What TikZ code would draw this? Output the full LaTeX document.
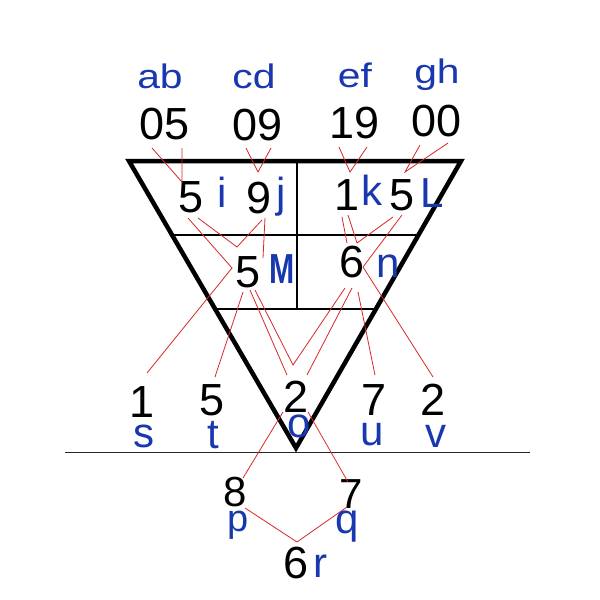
\documentclass[tikz,border=0pt]{standalone}
\usepackage{fontspec}
\setmainfont{Liberation Sans}
\definecolor{lblue}{RGB}{25,55,175}
\definecolor{lred}{RGB}{215,40,40}
\begin{document}
\begin{tikzpicture}[x=1pt,y=-1pt,
  dig/.style={font=\fontsize{45}{45}\selectfont, anchor=base, inner sep=0pt, text=black},
  let/.style={font=\fontsize{42}{42}\selectfont, anchor=base, inner sep=0pt, text=lblue},
  toplbl/.style={font=\fontsize{34}{34}\selectfont, anchor=base, inner sep=0pt, text=lblue},
  frame/.style={line width=4.5pt, line join=miter},
  thin/.style={line width=1.1pt},
  link/.style={draw=lred, line width=0.8pt}]
\fill[white] (0,0) rectangle (600,600);
\useasboundingbox (0,0) rectangle (600,600);

% triangle frame
\coordinate (TL) at (129,161);
\coordinate (TR) at (461,161);
\coordinate (AP) at (296,448);
\draw[frame] (TL) -- (TR) -- (AP) -- cycle;
% inner grid
\coordinate (m1l) at (172,235); \coordinate (m1r) at (418.5,235);
\coordinate (m2l) at (215,309); \coordinate (m2r) at (376,309);
\coordinate (vt) at (297,161); \coordinate (vb) at (297,309);
\draw[thin] (m1l) -- (m1r);
\draw[thin] (m2l) -- (m2r);
\draw[thin] (vt) -- (vb);
% ground line
\coordinate (gl) at (65,452); \coordinate (gr) at (530,452);
\draw[line width=1pt, black!85] (gl) -- (gr);

% top labels
\node[toplbl] (ab) at (160,88) {\scalebox{1.2}[1]{ab}};
\node[toplbl] (cd) at (254,88) {\scalebox{1.2}[1]{cd}};
\node[toplbl] (ef) at (355,87) {\scalebox{1.2}[1]{ef}};
\node[toplbl] (gh) at (437,83) {\scalebox{1.2}[1]{gh}};
% top numbers
\node[dig] (n05) at (165,139) {05};
\node[dig] (n09) at (258,140) {09};
\node[dig] (n19) at (355,138) {19};
\node[dig] (n00) at (437,136) {00};
% row 1
\node[dig] (d5i) at (191,212) {5};
\node[let] (li) at (222,207) {i};
\node[dig] (d9j) at (259,213) {9};
\node[let] (lj) at (281,207) {j};
\node[dig] (d1k) at (347,210) {1};
\node[let] (lk) at (372,205) {k};
\node[dig] (d5L) at (402,210) {5};
\node[let] (lL) at (432,207) {L};
% row 2
\node[dig] (d5M) at (248,287) {5};
\node[let] (lM) at (282,283) {\scalebox{0.72}[1]{\bfseries M}};
\node[dig] (d6n) at (352,277) {6};
\node[let] (ln) at (388,277) {n};
% bottom row
\node[dig] (d1s) at (142,417) {1};
\node[let] (ls) at (144,447) {s};
\node[dig] (d5t) at (212,415) {5};
\node[let] (lt) at (213,448) {t};
\node[dig] (d2o) at (296,412) {2};
\node[let] (lo) at (299,437) {o};
\node[dig] (d7u) at (374,415) {7};
\node[let] (lu) at (372,445) {u};
\node[dig] (d2v) at (433,415) {2};
\node[let] (lv) at (436,447) {v};
% below
\node[dig, font=\fontsize{42}{42}\selectfont] (d8p) at (235,506) {8};
\node[let, font=\fontsize{38}{38}\selectfont] (lp) at (238,531) {p};
\node[dig, font=\fontsize{42}{42}\selectfont] (d7q) at (351,508) {7};
\node[let] (lq) at (347,533) {q};
\node[dig] (d6r) at (296,578) {6};
\node[let] (lr) at (320,577) {r};

% red link points
\coordinate (a1) at (152,148); \coordinate (a2) at (182,148); \coordinate (a0) at (182,182);
\coordinate (c1) at (246,148); \coordinate (c2) at (271,148); \coordinate (c0) at (258,172);
\coordinate (e1) at (339,147); \coordinate (e2) at (367,147); \coordinate (e0) at (350,172);
\coordinate (g1) at (420,145); \coordinate (g2) at (448,143); \coordinate (g0) at (405,172);
\coordinate (i1) at (188,218); \coordinate (i2) at (198,218);
\coordinate (ibend) at (232,268); \coordinate (sTop) at (147,373);
\coordinate (j1) at (262,220); \coordinate (j2) at (265,218); \coordinate (jEnd) at (263,258);
\coordinate (ijV) at (237,247);
\coordinate (k1) at (342,217); \coordinate (k2) at (348,215); \coordinate (kEnd) at (347,243);
\coordinate (L1) at (393,217); \coordinate (L2) at (402,215);
\coordinate (kLV) at (357,243);
\coordinate (Lbend) at (363,267); \coordinate (vTop) at (433,377);
\coordinate (M1) at (243,292); \coordinate (M2) at (250,290); \coordinate (M3) at (255,290);
\coordinate (tTop) at (215,377); \coordinate (oL) at (287,375); \coordinate (MnV) at (293,365);
\coordinate (n1) at (345,288); \coordinate (n2) at (352,288); \coordinate (n3) at (358,292);
\coordinate (oR) at (307,375); \coordinate (uTop) at (375,375);
\coordinate (o1) at (283,412); \coordinate (o2) at (308,412);
\coordinate (pTop) at (243,478); \coordinate (qTop) at (348,482);
\coordinate (p1) at (245,508); \coordinate (q1) at (347,507); \coordinate (rV) at (297,542);

\draw[link] (a1) -- (a0) -- (a2);
\draw[link] (c1) -- (c0) -- (c2);
\draw[link] (e1) -- (e0) -- (e2);
\draw[link] (g1) -- (g0) -- (g2);
\draw[link] (i1) -- (ibend) -- (sTop);
\draw[link] (i2) -- (ijV) -- (j1);
\draw[link] (j2) -- (jEnd);
\draw[link] (k1) -- (kEnd);
\draw[link] (k2) -- (kLV) -- (L1);
\draw[link] (L2) -- (Lbend) -- (vTop);
\draw[link] (M1) -- (tTop);
\draw[link] (M2) -- (oL);
\draw[link] (M3) -- (MnV) -- (n1);
\draw[link] (n2) -- (oR);
\draw[link] (n3) -- (uTop);
\draw[link] (o1) -- (pTop);
\draw[link] (o2) -- (qTop);
\draw[link] (p1) -- (rV) -- (q1);
\end{tikzpicture}
\end{document}
